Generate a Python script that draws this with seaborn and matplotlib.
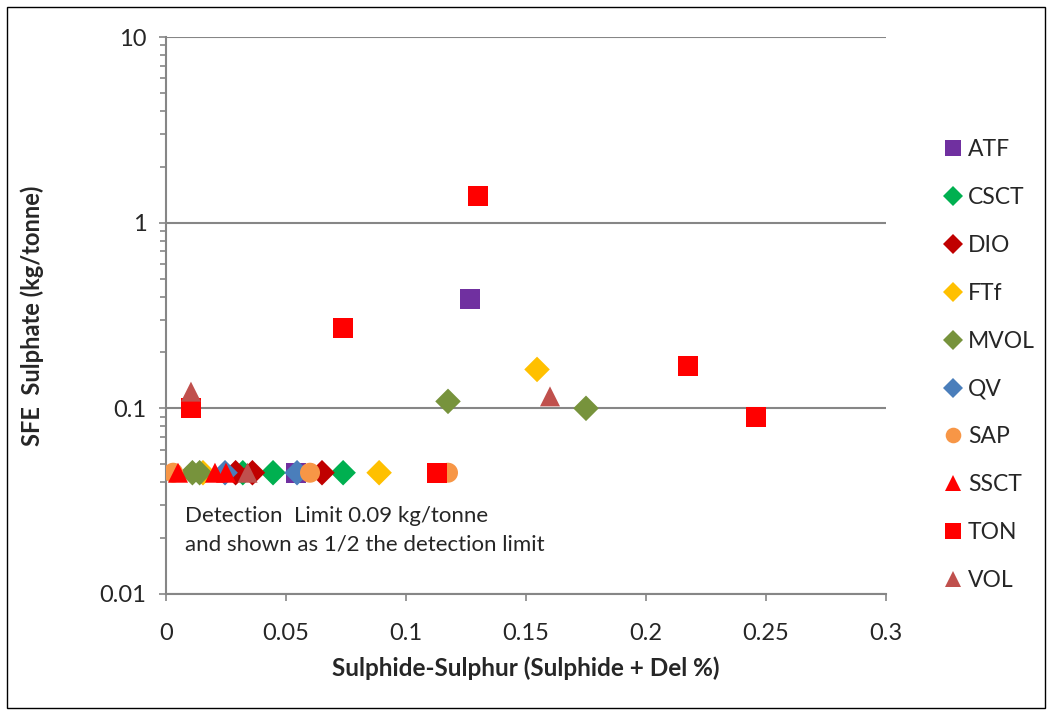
import matplotlib
matplotlib.use("Agg")
import matplotlib.pyplot as plt
import seaborn as sns
import pandas as pd
from matplotlib.lines import Line2D
from matplotlib.patches import Rectangle
from matplotlib.ticker import LogLocator, FixedLocator, FuncFormatter

sns.set_style("white")
plt.rcParams['font.family'] = ['Lato', 'DejaVu Sans']

series = ["ATF", "CSCT", "DIO", "FTf", "MVOL", "QV", "SAP", "SSCT", "TON", "VOL"]

atf_x = [0.1267, 0.054]
atf_y = [0.39, 0.045]
csct_x = [0.032, 0.0446, 0.0738]
csct_y = [0.045, 0.045, 0.045]
dio_x = [0.029, 0.036, 0.065]
dio_y = [0.045, 0.045, 0.045]
ftf_x = [0.0154, 0.0888, 0.1546]
ftf_y = [0.045, 0.045, 0.162]
mvol_x = [0.011, 0.014, 0.1175, 0.175]
mvol_y = [0.045, 0.045, 0.109, 0.1]
qv_x = [0.0246, 0.0546]
qv_y = [0.045, 0.045]
sap_x = [0.003, 0.06, 0.1175]
sap_y = [0.045, 0.045, 0.045]
ssct_x = [0.005, 0.0204, 0.025]
ssct_y = [0.045, 0.045, 0.045]
ton_x = [0.0104, 0.0738, 0.113, 0.13, 0.2175, 0.246]
ton_y = [0.1, 0.27, 0.045, 1.4, 0.17, 0.09]
vol_x = [0.0104, 0.034, 0.16]
vol_y = [0.123, 0.045, 0.116]

xs = [atf_x, csct_x, dio_x, ftf_x, mvol_x, qv_x, sap_x, ssct_x, ton_x, vol_x]
ys = [atf_y, csct_y, dio_y, ftf_y, mvol_y, qv_y, sap_y, ssct_y, ton_y, vol_y]
colors = ["#7030A0", "#00B050", "#C00000", "#FFC000", "#77933C", "#4A7EBB",
          "#F79646", "#FF0000", "#FF0000", "#C0504D"]
markers = ["s", "D", "D", "D", "D", "D", "o", "^", "s", "^"]
msizes = [14.4, 13.0, 13.0, 13.0, 13.0, 13.0, 14.4, 14.4, 14.4, 14.4]

fig = plt.figure(figsize=(10.52, 7.15), dpi=100)
ax = fig.add_axes([166/1052, 1-594/715, 720/1052, 557/715])

handles = []
for name, x, y, c, m, ms in zip(series, xs, ys, colors, markers, msizes):
    df = pd.DataFrame({"x": x, "y": y})
    sns.scatterplot(data=df, x="x", y="y", ax=ax, marker=m, color=c, s=ms**2,
                    edgecolor="none", linewidth=0, legend=False, zorder=3)
    handles.append(Line2D([], [], linestyle="none", marker=m, color=c,
                          markersize=ms*0.78, markeredgewidth=0, label=name))

ax.set_yscale("log")
ax.set_xlim(0, 0.3)
ax.set_ylim(0.01, 10)
ax.xaxis.set_major_locator(FixedLocator([0, 0.05, 0.1, 0.15, 0.2, 0.25, 0.3]))
ax.xaxis.set_major_formatter(FuncFormatter(lambda v, p: "0" if v == 0 else f"{v:g}"))
ax.yaxis.set_major_locator(FixedLocator([0.01, 0.1, 1, 10]))
ax.yaxis.set_major_formatter(FuncFormatter(lambda v, p: f"{v:g}"))
ax.yaxis.set_minor_locator(LogLocator(base=10, subs=range(2, 10)))
ax.yaxis.set_minor_formatter(FuncFormatter(lambda v, p: ""))

gray = "#868686"
ax.grid(axis="y", which="major", color=gray, linewidth=1.5, zorder=0)
ax.grid(axis="x", visible=False)
for s in ["top", "right"]:
    ax.spines[s].set_visible(False)
for s in ["left", "bottom"]:
    ax.spines[s].set_color(gray)
    ax.spines[s].set_linewidth(1.5)
ax.tick_params(axis="both", which="major", direction="out", length=5, width=1.2,
               color=gray, labelsize=17, left=True, bottom=True)
ax.tick_params(axis="x", which="major", pad=16)
ax.tick_params(axis="y", which="major", pad=9)
ax.tick_params(axis="y", which="minor", direction="out", length=4, width=1.2,
               color=gray, left=True)
ax.set_axisbelow(True)

ax.set_xlabel("Sulphide-Sulphur (Sulphide + Del %)", fontsize=17.5,
              fontweight="bold", labelpad=9)
ax.set_ylabel("SFE  Sulphate (kg/tonne)", fontsize=17, fontweight="bold",
              labelpad=40)

ax.text(0.026, 0.158, "Detection  Limit 0.09 kg/tonne\nand shown as 1/2 the detection limit",
        transform=ax.transAxes, fontsize=16, va="top", ha="left", linespacing=1.55)

fig.legend(handles=handles, loc="upper left", bbox_to_anchor=(929/1052, 1-128/715),
           frameon=False, fontsize=16.5, labelspacing=1.17, handletextpad=0.1,
           handlelength=1.1, borderpad=0)

fig.patches.append(Rectangle((7/1052, 7/715), 1-14/1052, 1-14/715,
                             transform=fig.transFigure, fill=False,
                             edgecolor="black", linewidth=1))

fig.savefig("out.png", dpi=100)
